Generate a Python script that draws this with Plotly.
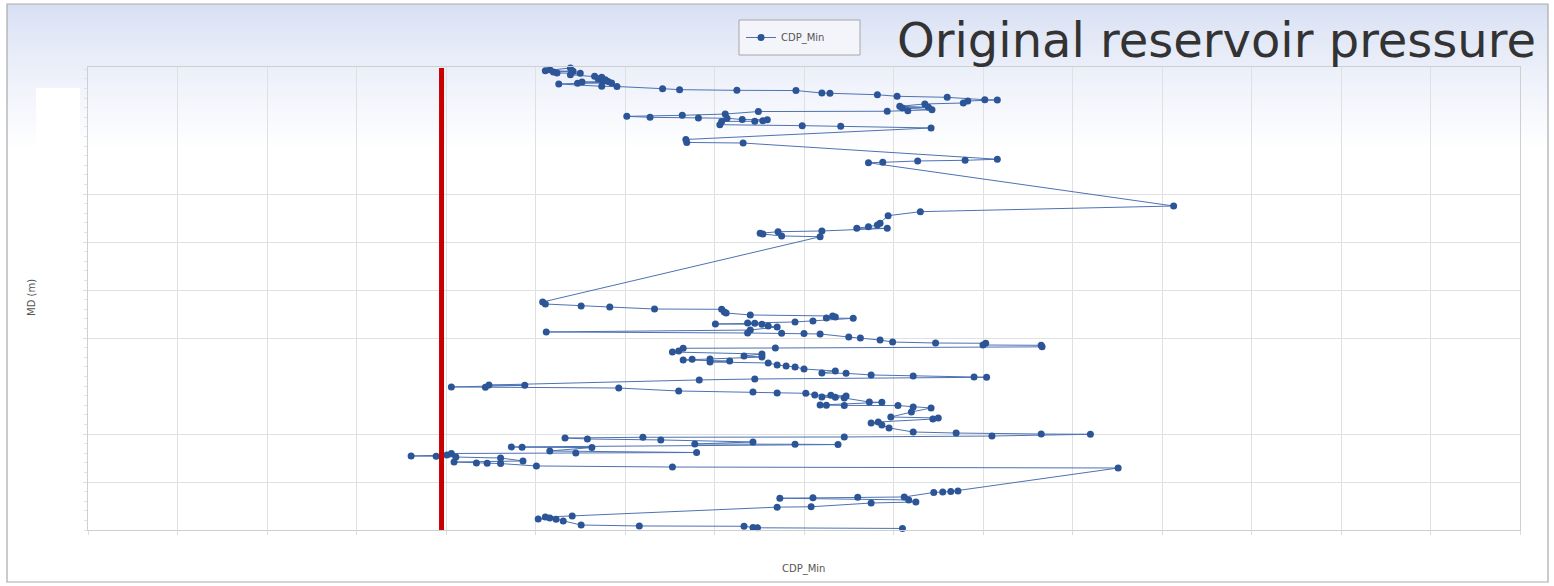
import plotly.graph_objects as go

# ---- data: minimum CDP against measured depth ----
md_m = [
    2515.3, 2515.9, 2518.7, 2520.5, 2521.6, 2522.2, 2522.9, 2524.0, 2524.2, 2525.7,
    2527.4, 2528.4, 2529.9, 2530.9, 2532.6, 2532.8, 2533.3, 2534.4, 2534.7, 2535.4,
    2537.8, 2538.0, 2540.3, 2541.3, 2542.0, 2542.2, 2544.8, 2545.0, 2546.6, 2548.2,
    2549.3, 2551.8, 2552.0, 2553.1, 2555.2, 2556.2, 2558.6, 2559.7, 2560.4, 2562.2,
    2563.2, 2563.8, 2564.1, 2566.7, 2568.0, 2569.1, 2570.1, 2570.8, 2571.1, 2572.4,
    2572.7, 2573.6, 2574.2, 2574.4, 2577.8, 2578.8, 2579.5, 2581.2, 2593.2, 2596.3,
    2596.9, 2613.8, 2614.9, 2615.6, 2617.0, 2617.4, 2662.5, 2668.4, 2672.6, 2680.5,
    2682.3, 2684.1, 2685.6, 2685.8, 2688.5, 2689.3, 2690.9, 2691.7, 2693.7, 2694.5,
    2762.5, 2764.6, 2766.7, 2767.7, 2769.8, 2770.1, 2772.9, 2774.0, 2776.0, 2777.1,
    2778.1, 2779.2, 2779.5, 2782.3, 2783.3, 2784.4, 2784.7, 2785.4, 2785.7, 2787.5,
    2788.5, 2791.7, 2793.7, 2794.8, 2795.1, 2795.3, 2795.8, 2799.0, 2800.0, 2802.1,
    2804.2, 2805.2, 2805.5, 2807.3, 2807.6, 2809.2, 2810.4, 2810.7, 2813.5, 2814.6,
    2816.7, 2818.7, 2819.8, 2821.9, 2822.2, 2822.9, 2824.0, 2825.0, 2826.0, 2828.1,
    2829.2, 2830.2, 2832.3, 2834.4, 2836.5, 2836.8, 2838.5, 2839.6, 2840.6, 2840.9,
    2842.7, 2843.7, 2849.0, 2849.3, 2851.0, 2851.3, 2852.1, 2855.2, 2856.2, 2857.3,
    2857.6, 2859.4, 2859.7, 2860.4, 2861.5, 2861.8, 2862.5, 2866.7, 2867.0, 2869.8,
    2870.0, 2870.2, 2870.4, 2871.9, 2872.9, 2877.1, 2882.3, 2883.3, 2884.4, 2887.5,
    2888.5, 2890.6, 2893.7, 2897.9, 2899.0, 2900.0, 2900.3, 2902.1, 2903.1, 2903.4,
    2904.2, 2905.2, 2906.2, 2908.3, 2910.4, 2910.7, 2911.0, 2913.5, 2913.8, 2914.1,
    2917.7, 2919.3, 2919.8, 2920.3, 2921.9, 2922.9, 2923.2, 2924.0, 2925.0, 2928.1,
    2929.2, 2930.2, 2930.5, 2930.8, 2933.3, 2934.4, 2935.4, 2959.4, 2959.9, 2960.4,
    2960.9, 2965.6, 2965.9, 2966.4, 2966.9, 2968.7, 2970.8, 2971.9, 2975.8, 2976.2,
    2985.4, 2986.5, 2987.5, 2988.5, 2988.8, 2990.6, 2994.8, 2995.8, 2996.1, 2997.4,
    2997.7, 2998.4,
]

cdp_min = [
    3550, 3544, 3539, 3516, 3511, 3542, 3520, 3524, 3550, 3539,
    3566, 3574, 3570, 3578, 3575, 3581, 3552, 3585, 3547, 3526,
    3574, 3591, 3642, 3661, 3725, 3791, 3820, 3829, 3882, 3904,
    3960, 4002, 4016, 3983, 3978, 3935, 3907, 3939, 3910, 3943,
    3916, 3893, 3749, 3712, 3664, 3602, 3628, 3682, 3714, 3731,
    3759, 3754, 3745, 3708, 3706, 3798, 3841, 3942, 3668, 3669,
    3732, 4016, 3980, 3927, 3888, 3872, 4213, 3930, 3894, 3885,
    3882, 3872, 3859, 3893, 3820, 3771, 3751, 3754, 3775, 3818,
    3508, 3511, 3551, 3583, 3633, 3708, 3711, 3713, 3740, 3832,
    3835, 3825, 3855, 3810, 3790, 3737, 3745, 3701, 3753, 3760,
    3770, 3740, 3512, 3737, 3775, 3800, 3818, 3850, 3863, 3885,
    3899, 3947, 4003, 4000, 4065, 4066, 3768, 3665, 3660, 3653,
    3753, 3733, 3753, 3695, 3675, 3665, 3717, 3695, 3760, 3770,
    3780, 3790, 3800, 3835, 3820, 3847, 3875, 3922, 3990, 4004,
    3745, 3683, 3448, 3488, 3406, 3444, 3593, 3660, 3743, 3770,
    3802, 3812, 3830, 3847, 3820, 3835, 3845, 3873, 3887, 3818,
    3825, 3845, 3905, 3922, 3942, 3920, 3897, 3950, 3944, 3883,
    3875, 3887, 3895, 3922, 3970, 4065, 4120, 4010, 3845, 3620,
    3533, 3558, 3640, 3743, 3678, 3790, 3838, 3473, 3485, 3563,
    3516, 3680, 3545, 3406, 3401, 3361, 3389, 3411, 3461, 3486,
    3409, 3434, 3446, 3461, 3501, 3653, 4151, 3972, 3964, 3955,
    3945, 3912, 3860, 3810, 3773, 3917, 3925, 3875, 3808, 3770,
    3541, 3511, 3516, 3503, 3523, 3531, 3551, 3616, 3733, 3743,
    3748, 3910,
]

ORIGINAL_PRESSURE = 3395          # original reservoir pressure marker
X_RANGE = [3000, 4600]
X_DTICK = 100
MD_RANGE = [3000, 2517.7]         # depth increases downward
MD_GRID = [2650, 2700, 2750, 2800, 2900, 2950]

# ---- page geometry (pixels) ----
W, H = 1554, 586
L, R, T, B = 88, 34, 67, 56
PW, PH = W - L - R, H - T - B


def px(x):
    return (x - L) / PW


def py(y):
    return (H - B - y) / PH


FONT = "DejaVu Sans"
shapes = []

# soft blue panel gradient fading to white
top_rgb = (214, 222, 243)
g0, g1, n = 4, 150, 40
for i in range(n):
    ya = g0 + (g1 - g0) * i / n
    yb = g0 + (g1 - g0) * (i + 1) / n + 0.6
    t = ((i + 0.5) / n) ** 0.8
    c = tuple(round(a + (255 - a) * t) for a in top_rgb)
    shapes.append(dict(type="rect", xref="paper", yref="paper",
                       x0=px(7), x1=px(1548), y0=py(yb), y1=py(ya),
                       fillcolor="rgb(%d,%d,%d)" % c, line_width=0, layer="below"))

# outer frame
shapes.append(dict(type="rect", xref="paper", yref="paper",
                   x0=px(7), x1=px(1548), y0=py(582), y1=py(4),
                   line=dict(color="#a9a9a9", width=1.2), fillcolor="rgba(0,0,0,0)",
                   layer="below"))
# blank label patch at upper left
shapes.append(dict(type="rect", xref="paper", yref="paper",
                   x0=px(36), x1=px(80), y0=py(150), y1=py(88),
                   fillcolor="white", line_width=0, layer="below"))
# legend box
shapes.append(dict(type="rect", xref="paper", yref="paper",
                   x0=px(739), x1=px(860), y0=py(55), y1=py(20),
                   fillcolor="#f3f5fb", line=dict(color="#a6a6a6", width=1),
                   layer="below"))
# original reservoir pressure line
shapes.append(dict(type="line", xref="x", yref="paper",
                   x0=ORIGINAL_PRESSURE, x1=ORIGINAL_PRESSURE, y0=0, y1=py(68),
                   line=dict(color="#c80000", width=5), layer="above"))

fig = go.Figure()
fig.add_trace(go.Scatter(
    x=cdp_min, y=md_m, mode="lines+markers", name="CDP_Min",
    line=dict(color="#4d72b3", width=1),
    marker=dict(size=7, color="#2c5597"),
    cliponaxis=False,
))

annotations = [
    dict(text="Original reservoir pressure", xref="paper", yref="paper",
         x=px(895), y=py(40), xanchor="left", yanchor="middle", showarrow=False,
         font=dict(family=FONT, size=48, color="#333333")),
    dict(text="MD (m)", xref="paper", yref="paper", x=px(31), y=py(298),
         xanchor="center", yanchor="middle", textangle=-90, showarrow=False,
         font=dict(family=FONT, size=10, color="#555555")),
    dict(text="CDP_Min", xref="paper", yref="paper", x=px(803), y=py(569),
         xanchor="center", yanchor="middle", showarrow=False,
         font=dict(family=FONT, size=10, color="#555555")),
]

fig.update_layout(
    width=W, height=H,
    margin=dict(l=L, r=R, t=T, b=B, pad=0),
    paper_bgcolor="white", plot_bgcolor="rgba(0,0,0,0)",
    font=dict(family=FONT, color="#555555"),
    shapes=shapes, annotations=annotations,
    showlegend=True,
    legend=dict(x=px(741), y=py(37.5), xanchor="left", yanchor="middle",
                bgcolor="rgba(0,0,0,0)", borderwidth=0,
                font=dict(family=FONT, size=10, color="#555555")),
    xaxis=dict(range=X_RANGE, tick0=X_RANGE[0], dtick=X_DTICK,
               showgrid=True, gridcolor="#e0e0e0", gridwidth=1,
               showticklabels=False, ticks="outside", ticklen=4, tickcolor="#dddddd",
               showline=True, linecolor="#cfcfcf", mirror=True, zeroline=False),
    yaxis=dict(range=MD_RANGE, tickmode="array", tickvals=MD_GRID,
               showgrid=True, gridcolor="#e0e0e0", gridwidth=1,
               showticklabels=False, ticks="outside", ticklen=4, tickcolor="#dddddd",
               minor=dict(tickmode="linear", tick0=2500, dtick=10, ticks="outside",
                          ticklen=3, tickcolor="#e2e2e2", showgrid=False),
               showline=True, linecolor="#cfcfcf", mirror=True, zeroline=False),
)

fig.write_html("out.html")
